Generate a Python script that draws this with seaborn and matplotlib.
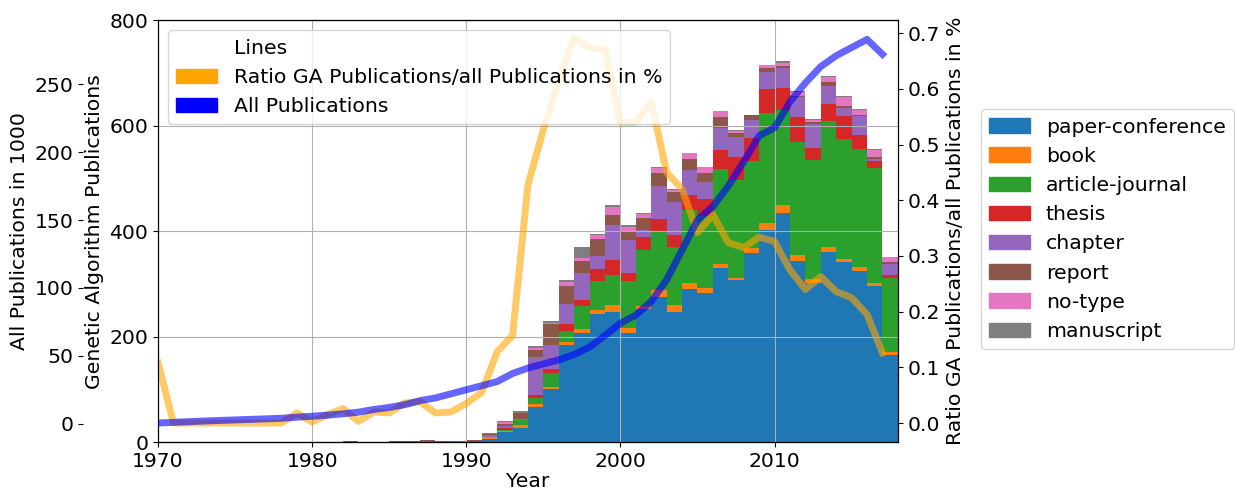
import numpy as np
import pandas as pd
import matplotlib
matplotlib.use("Agg")
import matplotlib.pyplot as plt
from matplotlib.patches import Patch
import seaborn as sns

plt.rcParams['font.size'] = 14.7

years = list(range(1970, 2018))
types = ['paper-conference', 'book', 'article-journal', 'thesis',
         'chapter', 'report', 'no-type', 'manuscript']
colors = ['#1f77b4', '#ff7f0e', '#2ca02c', '#d62728',
          '#9467bd', '#8c564b', '#e377c2', '#7f7f7f']

# GA publications per year and type (1970 .. 2017)
paper_conference = [0] * 10 + [0] * 10 + \
    [3, 7, 20, 27, 67, 100, 184, 207, 243, 247] + \
    [207, 252, 276, 247, 290, 283, 331, 307, 359, 402] + \
    [434, 344, 302, 361, 341, 325, 297, 166]
book = [0] * 10 + [0] * 10 + \
    [0, 2, 2, 5, 5, 5, 6, 7, 7, 14] + \
    [10, 6, 12, 14, 11, 10, 7, 4, 9, 14] + \
    [15, 11, 7, 9, 7, 8, 5, 5]
article_journal = [0] * 10 + \
    [0, 1, 1, 0, 0, 1, 0, 3, 0, 2] + \
    [0, 0, 2, 10, 12, 26, 21, 45, 55, 56] + \
    [89, 106, 111, 110, 139, 136, 180, 187, 165, 208] + \
    [180, 215, 226, 238, 227, 223, 218, 141]
thesis = [0] * 10 + \
    [0, 0, 0, 0, 0, 0, 0, 0, 1, 0] + \
    [0, 1, 3, 1, 5, 7, 13, 10, 23, 28] + \
    [15, 25, 24, 22, 29, 32, 36, 43, 44, 46] + \
    [42, 47, 23, 33, 44, 26, 13, 5]
chapter = [0] * 10 + [0] * 10 + \
    [0, 3, 4, 1, 73, 46, 38, 52, 25, 67] + \
    [62, 13, 63, 62, 47, 33, 42, 37, 34, 32] + \
    [38, 37, 45, 35, 14, 36, 4, 21]
report = [1, 0, 0, 0, 0, 0, 0, 0, 0, 1] + \
    [0, 0, 1, 0, 1, 1, 3, 1, 1, 0] + \
    [1, 3, 3, 11, 13, 41, 35, 22, 32, 19] + \
    [17, 23, 24, 19, 20, 17, 21, 9, 9, 8] + \
    [4, 3, 4, 7, 5, 3, 4, 4]
no_type = [0] * 10 + [0] * 10 + \
    [0, 0, 5, 0, 3, 1, 6, 6, 8, 15] + \
    [8, 8, 10, 4, 12, 10, 10, 3, 0, 5] + \
    [5, 7, 4, 10, 17, 9, 13, 9]
manuscript = [0] * 10 + [0] * 10 + \
    [1, 1, 2, 4, 4, 4, 4, 21, 2, 4] + \
    [4, 2, 2, 2, 0, 1, 1, 1, 1, 1] + \
    [4, 1, 2, 2, 2, 2, 2, 1]

# all publications in 1000
all_pubs = [0.5, 1.0, 1.5, 2.0, 2.4, 2.8, 3.2, 3.6, 4.0, 4.8,
            5.5, 6.3, 7.3, 8.5, 10.5, 12, 14, 17, 19, 22,
            25, 28, 31, 37, 41, 44, 47, 51, 56.5, 65,
            74, 80, 90, 106, 128, 150, 160, 175, 193, 212,
            218, 237, 251, 263, 271, 277, 283, 272]

# ratio GA publications / all publications in %
ratio = [0.108, 0, 0, 0, 0, 0, 0, 0, 0, 0.018,
         0.002, 0.015, 0.026, 0.003, 0.02, 0.018, 0.036, 0.038, 0.018, 0.02,
         0.035, 0.055, 0.128, 0.157, 0.428, 0.527, 0.616, 0.692, 0.674, 0.67,
         0.54, 0.54, 0.577, 0.45, 0.42, 0.342, 0.374, 0.324, 0.315, 0.334,
         0.326, 0.275, 0.24, 0.263, 0.236, 0.225, 0.195, 0.126]

counts = pd.DataFrame({'year': years,
                       'paper-conference': paper_conference,
                       'book': book,
                       'article-journal': article_journal,
                       'thesis': thesis,
                       'chapter': chapter,
                       'report': report,
                       'no-type': no_type,
                       'manuscript': manuscript})
long_df = counts.melt(id_vars='year', var_name='type', value_name='count')

fig, ax = plt.subplots(figsize=(12.35, 4.93), dpi=100)
fig.subplots_adjust(left=0.128, right=0.727, bottom=0.103, top=0.959)

# stacked histogram (first hue level ends up on top, so reverse)
sns.histplot(data=long_df, x='year', weights='count', hue='type',
             hue_order=types[::-1], multiple='stack',
             binwidth=1, binrange=(1970, 2018),
             palette=dict(zip(types, colors)),
             alpha=1, linewidth=0, legend=False, ax=ax)
ax.set_xlim(1970, 2018)
ax.set_ylim(0, 800)
ax.set_xticks([1970, 1980, 1990, 2000, 2010])
ax.set_yticks([0, 200, 400, 600, 800])
ax.grid(True)
ax.set_xlabel('Year', labelpad=1)
ax.set_ylabel('Genetic Algorithm Publications')

# ratio line on the right axis
ax2 = ax.twinx()
sns.lineplot(x=years, y=ratio, color='orange', alpha=0.6, linewidth=5, ax=ax2)
ax2.set_ylim(-0.0345, 0.7235)
ax2.set_ylabel('Ratio GA Publications/all Publications in %')

# all publications on a third axis placed left
ax3 = ax.twinx()
sns.lineplot(x=years, y=all_pubs, color='blue', alpha=0.6, linewidth=5, ax=ax3)
ax3.spines['left'].set_position(('axes', -0.101))
ax3.spines['left'].set_visible(False)
ax3.spines['right'].set_visible(False)
ax3.yaxis.set_ticks_position('left')
ax3.yaxis.set_label_position('left')
ax3.set_yticks([0, 50, 100, 150, 200, 250])
ax3.set_ylabel('All Publications in 1000')
ax.set_xlim(1970, 2018)

line_handles = [Patch(facecolor='none', edgecolor='none'),
                Patch(color='orange'), Patch(color='blue')]
ax3.legend(line_handles, ['Lines', 'Ratio GA Publications/all Publications in %',
                          'All Publications'], loc='upper left')

type_handles = [Patch(color=c) for c in colors]
fig.legend(type_handles, types, loc='center left',
           bbox_to_anchor=(0.794, 0.535), borderaxespad=0)

plt.savefig('out.png', dpi=100)
